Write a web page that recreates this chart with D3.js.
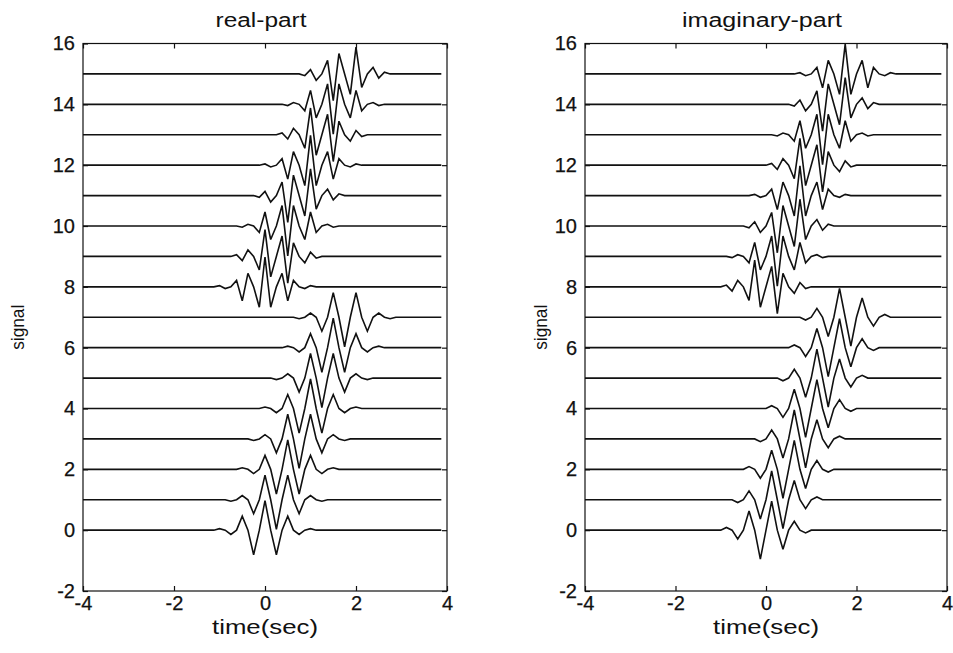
<!DOCTYPE html>
<html>
<head>
<meta charset="utf-8">
<script src="https://cdn.jsdelivr.net/npm/d3@7"></script>
<style>
  body { margin: 0; background: #fff; }
  svg { display: block; }
  text { font-family: "Liberation Sans", Arial, Helvetica, sans-serif; fill: #111; }
  .tick text { stroke: #111; stroke-width: 0.25px; }
</style>
</head>
<body>
<svg id="chart" width="953" height="653"></svg>
<script>
// ---- data -------------------------------------------------------------
// Signals are sampled every 1/8 s over [-4, 3.875]; outside each
// trace's active window the sample value is zero.
const sampleStep = 0.125;
const timeFirst = -4;
const timeLast = 3.875;

const xTickValues = [-4, -2, 0, 2, 4];
const yTickValues = [-2, 0, 2, 4, 6, 8, 10, 12, 14, 16];

// vertical offset of each trace (signal number)
const traceOffsets = [0, 1, 2, 3, 4, 5, 6, 7, 8, 9, 10, 11, 12, 13, 14, 15];

// start time of the 17-sample active window of each trace
const windowStart = [-1, -0.75, -0.5, -0.25, 0, 0.25, 0.5, 0.75,
                     -1, -0.75, -0.5, -0.25, 0, 0.25, 0.5, 0.75];

// real part, active-window samples per trace
const realWindows = [
  [0.05, 0, -0.14, 0, 0.46, 0, -0.81, 0, 0.97, 0, -0.81, 0, 0.46, 0, -0.14, 0, 0.05],
  [-0.05, 0, 0.14, 0, -0.46, 0, 0.81, 0, -0.97, 0, 0.81, 0, -0.46, 0, 0.14, 0, -0.05],
  [0.05, 0, -0.14, 0, 0.46, 0, -0.81, 0, 0.97, 0, -0.81, 0, 0.46, 0, -0.14, 0, 0.05],
  [-0.05, 0, 0.14, 0, -0.46, 0, 0.81, 0, -0.97, 0, 0.81, 0, -0.46, 0, 0.14, 0, -0.05],
  [0.05, 0, -0.14, 0, 0.46, 0, -0.81, 0, 0.97, 0, -0.81, 0, 0.46, 0, -0.14, 0, 0.05],
  [-0.05, 0, 0.14, 0, -0.46, 0, 0.81, 0, -0.97, 0, 0.81, 0, -0.46, 0, 0.14, 0, -0.05],
  [0.05, 0, -0.14, 0, 0.46, 0, -0.81, 0, 0.97, 0, -0.81, 0, 0.46, 0, -0.14, 0, 0.05],
  [-0.05, 0, 0.14, 0, -0.46, 0, 0.81, 0, -0.97, 0, 0.81, 0, -0.46, 0, 0.14, 0, -0.05],
  [0.04, -0.057, 0, 0.212, -0.46, 0.445, 0, -0.672, 0.98, -0.672, 0, 0.445, -0.46, 0.212, 0, -0.057, 0.04],
  [0, 0.057, -0.14, 0.212, 0, -0.445, 0.88, -0.672, 0, 0.672, -0.88, 0.445, 0, -0.212, 0.14, -0.057, 0],
  [-0.04, 0.057, 0, -0.212, 0.46, -0.445, 0, 0.672, -0.98, 0.672, 0, -0.445, 0.46, -0.212, 0, 0.057, -0.04],
  [0, -0.057, 0.14, -0.212, 0, 0.445, -0.88, 0.672, 0, -0.672, 0.88, -0.445, 0, 0.212, -0.14, 0.057, 0],
  [0.04, -0.057, 0, 0.212, -0.46, 0.445, 0, -0.672, 0.98, -0.672, 0, 0.445, -0.46, 0.212, 0, -0.057, 0.04],
  [0, 0.057, -0.14, 0.212, 0, -0.445, 0.88, -0.672, 0, 0.672, -0.88, 0.445, 0, -0.212, 0.14, -0.057, 0],
  [-0.04, 0.057, 0, -0.212, 0.46, -0.445, 0, 0.672, -0.98, 0.672, 0, -0.445, 0.46, -0.212, 0, 0.057, -0.04],
  [0, -0.057, 0.14, -0.212, 0, 0.445, -0.88, 0.672, 0, -0.672, 0.88, -0.445, 0, 0.212, -0.14, 0.057, 0]
];

// imaginary part, active-window samples per trace
const imagWindows = [
  [0, 0.09, 0, -0.29, 0, 0.63, 0, -0.95, 0, 0.95, 0, -0.63, 0, 0.29, 0, -0.09, 0],
  [0, -0.09, 0, 0.29, 0, -0.63, 0, 0.95, 0, -0.95, 0, 0.63, 0, -0.29, 0, 0.09, 0],
  [0, 0.09, 0, -0.29, 0, 0.63, 0, -0.95, 0, 0.95, 0, -0.63, 0, 0.29, 0, -0.09, 0],
  [0, -0.09, 0, 0.29, 0, -0.63, 0, 0.95, 0, -0.95, 0, 0.63, 0, -0.29, 0, 0.09, 0],
  [0, 0.09, 0, -0.29, 0, 0.63, 0, -0.95, 0, 0.95, 0, -0.63, 0, 0.29, 0, -0.09, 0],
  [0, -0.09, 0, 0.29, 0, -0.63, 0, 0.95, 0, -0.95, 0, 0.63, 0, -0.29, 0, 0.09, 0],
  [0, 0.09, 0, -0.29, 0, 0.63, 0, -0.95, 0, 0.95, 0, -0.63, 0, 0.29, 0, -0.09, 0],
  [0, -0.09, 0, 0.29, 0, -0.63, 0, 0.95, 0, -0.95, 0, 0.63, 0, -0.29, 0, 0.09, 0],
  [0, 0.057, -0.14, 0.212, 0, -0.445, 0.88, -0.672, 0, 0.672, -0.88, 0.445, 0, -0.212, 0.14, -0.057, 0],
  [-0.04, 0.057, 0, -0.212, 0.46, -0.445, 0, 0.672, -0.98, 0.672, 0, -0.445, 0.46, -0.212, 0, 0.057, -0.04],
  [0, -0.057, 0.14, -0.212, 0, 0.445, -0.88, 0.672, 0, -0.672, 0.88, -0.445, 0, 0.212, -0.14, 0.057, 0],
  [0.04, -0.057, 0, 0.212, -0.46, 0.445, 0, -0.672, 0.98, -0.672, 0, 0.445, -0.46, 0.212, 0, -0.057, 0.04],
  [0, 0.057, -0.14, 0.212, 0, -0.445, 0.88, -0.672, 0, 0.672, -0.88, 0.445, 0, -0.212, 0.14, -0.057, 0],
  [-0.04, 0.057, 0, -0.212, 0.46, -0.445, 0, 0.672, -0.98, 0.672, 0, -0.445, 0.46, -0.212, 0, 0.057, -0.04],
  [0, -0.057, 0.14, -0.212, 0, 0.445, -0.88, 0.672, 0, -0.672, 0.88, -0.445, 0, 0.212, -0.14, 0.057, 0],
  [0.04, -0.057, 0, 0.212, -0.46, 0.445, 0, -0.672, 0.98, -0.672, 0, 0.445, -0.46, 0.212, 0, -0.057, 0.04]
];

const panelTitles = ["real-part", "imaginary-part"];
const xLabel = "time(sec)";
const yLabel = "signal";

// ---- layout -------------------------------------------------------------
const svg = d3.select("#chart");
const panels = [
  { left: 83, right: 447, title: panelTitles[0], titleWidth: 91, windows: realWindows, yLabelX: 18 },
  { left: 585, right: 947, title: panelTitles[1], titleWidth: 160, windows: imagWindows, yLabelX: 541 }
];
const plotTop = 43.5, plotBottom = 591;
const tickFont = 20;
// tick labels use a plain hyphen for negative numbers
const tickText = d => String(d);

// expand a trace's window into the full sample sequence
function traceSamples(windowValues, start) {
  const n = Math.round((timeLast - timeFirst) / sampleStep) + 1;
  const out = [];
  for (let i = 0; i < n; i++) {
    const t = timeFirst + i * sampleStep;
    const j = Math.round((t - start) / sampleStep);
    const v = (j >= 0 && j < windowValues.length) ? windowValues[j] : 0;
    out.push([t, v]);
  }
  return out;
}

panels.forEach(p => {
  const x = d3.scaleLinear().domain([-4, 4]).range([p.left, p.right]);
  const y = d3.scaleLinear().domain([-2, 16]).range([plotBottom, plotTop]);
  const g = svg.append("g");

  // traces
  const line = d3.line().x(d => x(d[0])).y(d => y(d[1]));
  traceOffsets.forEach((off, k) => {
    const pts = traceSamples(p.windows[k], windowStart[k]).map(d => [d[0], d[1] + off]);
    g.append("path")
      .attr("d", line(pts))
      .attr("fill", "none")
      .attr("stroke", "#111")
      .attr("stroke-width", 1.6)
      .attr("stroke-linejoin", "miter")
      .attr("stroke-miterlimit", 3);
  });

  // box
  g.append("rect")
    .attr("x", p.left).attr("y", plotTop)
    .attr("width", p.right - p.left).attr("height", plotBottom - plotTop)
    .attr("fill", "none").attr("stroke", "#111").attr("stroke-width", 1.2);

  // axes with inward ticks
  const styleAxis = sel => {
    sel.select(".domain").remove();
    sel.selectAll(".tick line").attr("stroke", "#111").attr("stroke-width", 1.2);
    sel.selectAll(".tick text").attr("font-size", tickFont).attr("fill", "#111");
  };
  g.append("g").attr("transform", `translate(0,${plotBottom})`)
    .call(d3.axisBottom(x).tickValues(xTickValues).tickSize(-5).tickPadding(5).tickFormat(tickText))
    .call(styleAxis);
  g.append("g").attr("transform", `translate(0,${plotTop})`)
    .call(d3.axisTop(x).tickValues(xTickValues).tickSize(-5).tickFormat(""))
    .call(styleAxis);
  g.append("g").attr("transform", `translate(${p.left},0)`)
    .call(d3.axisLeft(y).tickValues(yTickValues).tickSize(-5).tickPadding(8).tickFormat(tickText))
    .call(styleAxis);
  g.append("g").attr("transform", `translate(${p.right},0)`)
    .call(d3.axisRight(y).tickValues(yTickValues).tickSize(-5).tickFormat(""))
    .call(styleAxis);
  g.selectAll("g text").attr("font-family", null);

  // title and axis labels
  g.append("text")
    .attr("x", (p.left + p.right) / 2 - 4).attr("y", 27)
    .attr("text-anchor", "middle").attr("font-size", 20)
    .attr("textLength", p.titleWidth).attr("lengthAdjust", "spacingAndGlyphs")
    .text(p.title);
  g.append("text")
    .attr("x", (p.left + p.right) / 2).attr("y", 634)
    .attr("text-anchor", "middle").attr("font-size", 20)
    .attr("textLength", 106).attr("lengthAdjust", "spacingAndGlyphs")
    .text(xLabel);
  g.append("text")
    .attr("transform", `translate(${p.yLabelX + 6},${(plotTop + plotBottom) / 2 + 10}) rotate(-90)`)
    .attr("text-anchor", "middle").attr("font-size", 19)
    .attr("textLength", 45).attr("lengthAdjust", "spacingAndGlyphs")
    .text(yLabel);
});
</script>
</body>
</html>
